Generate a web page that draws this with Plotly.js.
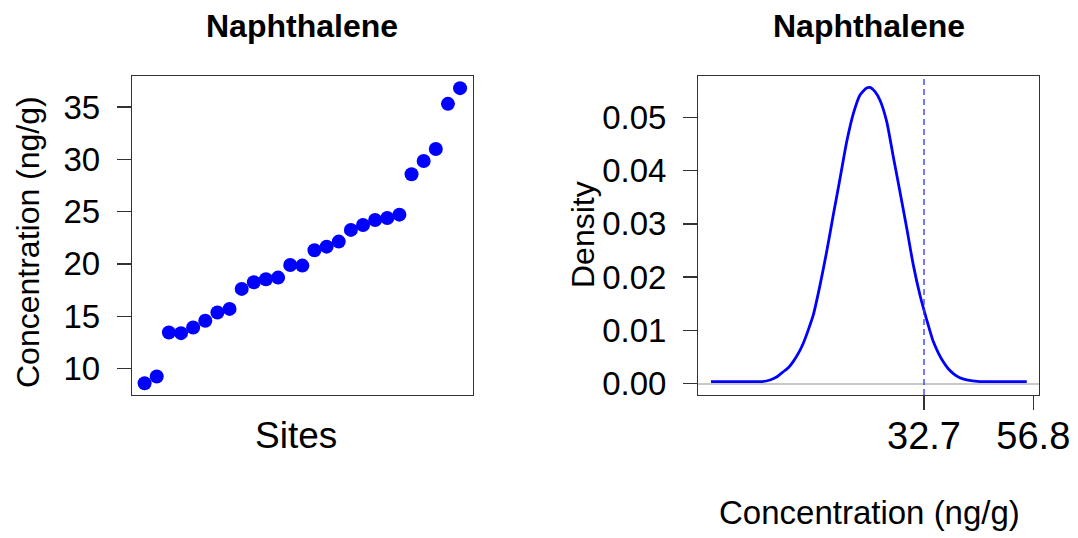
<!DOCTYPE html>
<html>
<head>
<meta charset="utf-8">
<script src="https://cdn.plot.ly/plotly-3.0.1.min.js"></script>
<style>
  html, body { margin: 0; padding: 0; background: #ffffff; }
  #chart { width: 1078px; height: 538px; }
</style>
</head>
<body>
<div id="chart"></div>
<script>
// ---- Data ----
const chartTitle = "Naphthalene";
const yTitleLeft = "Concentration (ng/g)";
const xTitleLeft = "Sites";
const yTitleRight = "Density";
const xTitleRight = "Concentration (ng/g)";

// Left panel: sorted concentrations per site
const siteIndex = [1, 2, 3, 4, 5, 6, 7, 8, 9, 10, 11, 12, 13, 14, 15, 16, 17, 18, 19, 20, 21, 22, 23, 24, 25, 26, 27];
const concentration = [8.6, 9.24, 13.44, 13.38, 13.92, 14.56, 15.35, 15.7, 17.61, 18.25, 18.54, 18.69, 19.9, 19.84,
                       21.3, 21.65, 22.13, 23.25, 23.72, 24.2, 24.39, 24.71, 28.57, 29.84, 30.98, 35.3, 36.8];
const leftYTicks = [10, 15, 20, 25, 30, 35];

// Right panel: density curve
const densityX = [-14.25, -6.0, -3.07, -1.24, 0.3, 1.69, 2.9, 3.9, 5.0, 6.1, 7.2, 8.3, 9.78, 11.25, 12.71, 14.19, 15.66, 17.12, 18.6, 20.07,
                  20.8, 21.9, 23.0, 24.48, 25.93, 27.41, 28.89, 30.34, 31.82, 33.3, 34.75, 35.85, 36.95, 38.05, 39.16, 40.6, 42.1, 45.04, 48.0, 55.35];
const densityY = [0.0004, 0.0004, 0.0004, 0.0007, 0.0013, 0.00225, 0.0031, 0.0042, 0.0057, 0.0076, 0.0101, 0.0129, 0.0185, 0.0248, 0.0317, 0.0385, 0.0454, 0.0507, 0.0542, 0.0555,
                  0.0556, 0.0548, 0.0532, 0.0492, 0.0426, 0.0360, 0.0292, 0.0223, 0.0166, 0.0120, 0.0079, 0.0058, 0.0041, 0.0028, 0.0019, 0.0011, 0.0007, 0.0004, 0.0004, 0.0004];
const rightYTicks = [0.00, 0.01, 0.02, 0.03, 0.04, 0.05];
const rightXTicks = [32.7, 56.8];
const rightXTickText = ["32.7", "56.8"];
const thresholdValue = [32.7];

// ---- Styling ----
const FONT = "Liberation Sans, Arial, sans-serif";
const AXCOL = "#333333";
const W = 1078, H = 538;
const px = v => v / W;
const py = v => 1 - v / H;

const traces = [
  {
    x: siteIndex, y: concentration,
    type: "scatter", mode: "markers",
    marker: { color: "#0000ff", size: 14 },
    xaxis: "x", yaxis: "y", hoverinfo: "x+y"
  },
  {
    x: densityX, y: densityY,
    type: "scatter", mode: "lines",
    line: { color: "#0000ff", width: 2.8, shape: "spline", smoothing: 0.6 },
    xaxis: "x2", yaxis: "y2"
  }
];

const baseAxis = {
  showgrid: false, zeroline: false,
  showline: true, mirror: true, linecolor: AXCOL, linewidth: 1.3,
  ticks: "outside", ticklen: 14, tickwidth: 1.3, tickcolor: AXCOL,
  fixedrange: true
};

const layout = {
  width: W, height: H,
  margin: { l: 0, r: 0, t: 0, b: 0 },
  paper_bgcolor: "#ffffff", plot_bgcolor: "#ffffff",
  showlegend: false,
  font: { family: FONT, color: "#000000" },
  xaxis: Object.assign({}, baseAxis, {
    domain: [px(132), px(472.7)], anchor: "y",
    range: [-0.04, 28.04], ticks: "", showticklabels: false
  }),
  yaxis: Object.assign({}, baseAxis, {
    domain: [py(395), py(76)], anchor: "x",
    range: [7.47, 37.96], tickmode: "array", tickvals: leftYTicks,
    tickfont: { family: FONT, size: 33, color: "#000000" },
    ticklabelstandoff: 10
  }),
  xaxis2: Object.assign({}, baseAxis, {
    domain: [px(698.3), px(1039)], anchor: "y2",
    range: [-17.05, 58.05], tickmode: "array", tickvals: rightXTicks, ticktext: rightXTickText,
    tickfont: { family: FONT, size: 38, color: "#000000" },
    ticklabelstandoff: -7
  }),
  yaxis2: Object.assign({}, baseAxis, {
    domain: [py(395), py(76)], anchor: "x2",
    range: [-0.00212, 0.05775], tickmode: "array", tickvals: rightYTicks, tickformat: ".2f",
    tickfont: { family: FONT, size: 33, color: "#000000" },
    ticklabelstandoff: 10,
    zeroline: true, zerolinecolor: "#c8c8c8", zerolinewidth: 1.6
  }),
  shapes: [
    {
      type: "line", xref: "x2", yref: "y2 domain",
      x0: thresholdValue[0], x1: thresholdValue[0], y0: 0, y1: 1,
      line: { color: "#3030ff", width: 1.3, dash: "6px,4px" }
    }
  ],
  annotations: [
    { text: "<b>" + chartTitle + "</b>", xref: "paper", yref: "paper", x: px(302), y: py(26),
      xanchor: "center", yanchor: "middle", showarrow: false,
      font: { family: FONT, size: 32, color: "#000000" } },
    { text: "<b>" + chartTitle + "</b>", xref: "paper", yref: "paper", x: px(868.6), y: py(26),
      xanchor: "center", yanchor: "middle", showarrow: false,
      font: { family: FONT, size: 32, color: "#000000" } },
    { text: yTitleLeft, xref: "paper", yref: "paper", x: px(28), y: py(242),
      xanchor: "center", yanchor: "middle", textangle: -90, showarrow: false,
      font: { family: FONT, size: 32, color: "#000000" } },
    { text: xTitleLeft, xref: "paper", yref: "paper", x: px(296), y: py(436),
      xanchor: "center", yanchor: "middle", showarrow: false,
      font: { family: FONT, size: 37, color: "#000000" } },
    { text: yTitleRight, xref: "paper", yref: "paper", x: px(583), y: py(235),
      xanchor: "center", yanchor: "middle", textangle: -90, showarrow: false,
      font: { family: FONT, size: 32, color: "#000000" } },
    { text: xTitleRight, xref: "paper", yref: "paper", x: px(869), y: py(512),
      xanchor: "center", yanchor: "middle", showarrow: false,
      font: { family: FONT, size: 33, color: "#000000" } }
  ]
};

Plotly.newPlot("chart", traces, layout, { displayModeBar: false, staticPlot: true });
</script>
</body>
</html>
